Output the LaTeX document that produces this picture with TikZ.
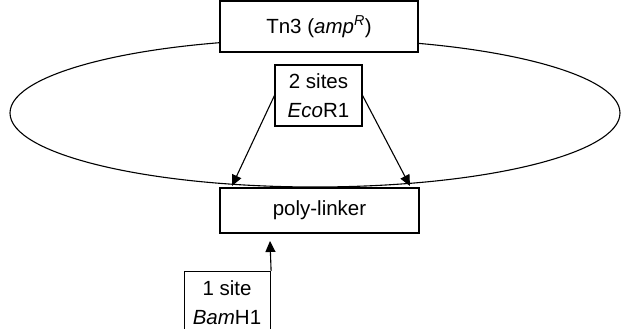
\documentclass[tikz,border=0pt]{standalone}
\usepackage{fontspec}
\setmainfont{Liberation Sans}
\usetikzlibrary{arrows.meta}
\begin{document}
\begin{tikzpicture}[x=1pt,y=-1pt,line width=1.1pt,
  box/.style={draw,fill=white,rectangle,inner sep=0pt,align=center,font=\fontsize{20.5}{29}\selectfont},
  arr/.style={-{Triangle[length=11pt,width=10pt]}}]
\useasboundingbox (0,0) rectangle (621,329);
\draw (315,113) ellipse [x radius=305, y radius=74];
\node[box,minimum width=198pt,minimum height=51pt] (tn) at (319,26.5) {Tn3 (\textit{amp}\textsuperscript{\textit{R}})};
\node[box,minimum width=87pt,minimum height=61pt] (eco) at (318.5,95.5) {2 sites\\\textit{Eco}R1};
\node[box,minimum width=199pt,minimum height=45pt] (poly) at (319.5,210.5) {poly-linker};
\node[box,minimum width=86pt,minimum height=72pt,anchor=north west] (bam) at (184,271) {};
\node[font=\fontsize{20.5}{29}\selectfont,align=center] (bamtxt) at (227,303) {1 site\\\textit{Bam}H1};
\coordinate (l) at (232,186);
\coordinate (r) at (410,186);
\coordinate (b) at (270,241);
\draw[arr] (eco.west) -- (l);
\draw[arr] (eco.east) -- (r);
\draw[arr] (bam.north east) -- (b);
\end{tikzpicture}
\end{document}
